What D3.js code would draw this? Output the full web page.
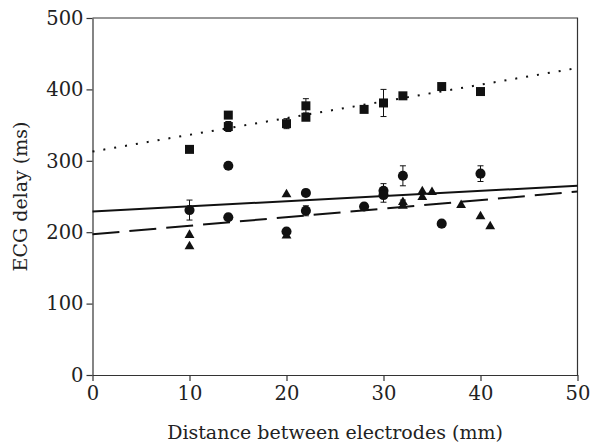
<!DOCTYPE html>
<html>
<head>
<meta charset="utf-8">
<script src="https://cdn.jsdelivr.net/npm/d3@7"></script>
<style>
  body { margin: 0; background: #fff; }
  svg { display: block; }
  .axis path, .axis line { stroke: #333; stroke-width: 1.2; }
  .axis text { font-family: "DejaVu Serif", serif; font-size: 19.5px; fill: #222; }
  .title { font-family: "DejaVu Serif", serif; font-size: 19px; fill: #222; }
</style>
</head>
<body>
<svg id="chart" width="593" height="445"></svg>
<script>
// tick values
var xTicks = [0, 10, 20, 30, 40, 50];
var yTicks = [0, 100, 200, 300, 400, 500];

// squares (ms)
var squareX   = [10, 14, 14, 20, 22, 22, 28, 30, 32, 36, 40];
var squareY   = [316, 364, 348, 352, 377, 361, 372, 381, 391, 404, 397];
var squareErr = [0, 0, 7, 7, 10, 0, 0, 19, 0, 0, 4];

// circles
var circleX   = [10, 14, 14, 20, 22, 22, 28, 30, 30, 32, 36, 40];
var circleY   = [231, 293, 221, 201, 255, 230, 236, 258, 252, 279, 212, 282];
var circleErr = [14, 0, 4, 0, 0, 7, 0, 10, 10, 14, 0, 11];

// triangles
var triX   = [10, 10, 20, 20, 32, 32, 34, 34, 35, 38, 40, 41];
var triY   = [196, 180, 253, 195, 242, 237, 257, 249, 256, 238, 222, 208];
var triErr = [0, 0, 0, 0, 3, 0, 0, 0, 0, 0, 0, 0];

// regression lines, value at x=0 and x=50
var fitX      = [0, 50];
var fitDotted = [313, 430];
var fitSolid  = [229, 265];
var fitDashed = [197, 257];

var margin = {top: 18, right: 15.5, bottom: 70, left: 92.5};
var svg = d3.select("#chart");
var width = 593 - margin.left - margin.right;
var height = 445 - margin.top - margin.bottom;
var g = svg.append("g").attr("transform", "translate(" + margin.left + "," + margin.top + ")");

var x = d3.scaleLinear().domain([0, 50]).range([0, width]);
var y = d3.scaleLinear().domain([0, 500]).range([height, 0]);

// frame (top and right)
g.append("path")
  .attr("d", "M0,0H" + width + "V" + height)
  .attr("fill", "none").attr("stroke", "#333").attr("stroke-width", 1.2);

g.append("g").attr("class", "axis")
  .attr("transform", "translate(0," + height + ")")
  .call(d3.axisBottom(x).tickValues(xTicks).tickSize(6).tickPadding(5).tickSizeOuter(0));

g.append("g").attr("class", "axis")
  .call(d3.axisLeft(y).tickValues(yTicks).tickSize(6).tickPadding(3).tickSizeOuter(0));

// fit lines
function fit(vals, dash) {
  g.append("line")
    .attr("x1", x(fitX[0])).attr("y1", y(vals[0]))
    .attr("x2", x(fitX[1])).attr("y2", y(vals[1]))
    .attr("stroke", "#111").attr("stroke-width", 2)
    .attr("stroke-dasharray", dash);
}
fit(fitDotted, "2 9");
fit(fitSolid, null);
fit(fitDashed, "27 10");

// error bars
function errBars(xs, ys, es) {
  var eg = g.append("g").attr("stroke", "#111").attr("stroke-width", 1);
  xs.forEach(function(v, i) {
    if (!es[i]) return;
    var cx = x(v), y1 = y(ys[i] - es[i]), y2 = y(ys[i] + es[i]);
    eg.append("line").attr("x1", cx).attr("x2", cx).attr("y1", y1).attr("y2", y2);
    eg.append("line").attr("x1", cx - 3).attr("x2", cx + 3).attr("y1", y1).attr("y2", y1);
    eg.append("line").attr("x1", cx - 3).attr("x2", cx + 3).attr("y1", y2).attr("y2", y2);
  });
}
errBars(squareX, squareY, squareErr);
errBars(circleX, circleY, circleErr);
errBars(triX, triY, triErr);

// markers
function markers(xs, ys, type, size) {
  var sym = d3.symbol().type(type).size(size);
  g.append("g").selectAll("path")
    .data(xs.map(function(v, i) { return [v, ys[i]]; }))
    .join("path")
    .attr("d", sym)
    .attr("transform", function(d) { return "translate(" + x(d[0]) + "," + y(d[1]) + ")"; })
    .attr("fill", "#111");
}
markers(squareX, squareY, d3.symbolSquare, 81);
markers(circleX, circleY, d3.symbolCircle, 80);
markers(triX, triY, d3.symbolTriangle, 42);

// axis titles
svg.append("text").attr("class", "title")
  .attr("x", margin.left + width / 2).attr("y", 439)
  .attr("text-anchor", "middle")
  .text("Distance between electrodes (mm)");

svg.append("text").attr("class", "title")
  .attr("transform", "translate(27," + (margin.top + height / 2) + ") rotate(-90)")
  .attr("text-anchor", "middle")
  .text("ECG delay (ms)");
</script>
</body>
</html>
